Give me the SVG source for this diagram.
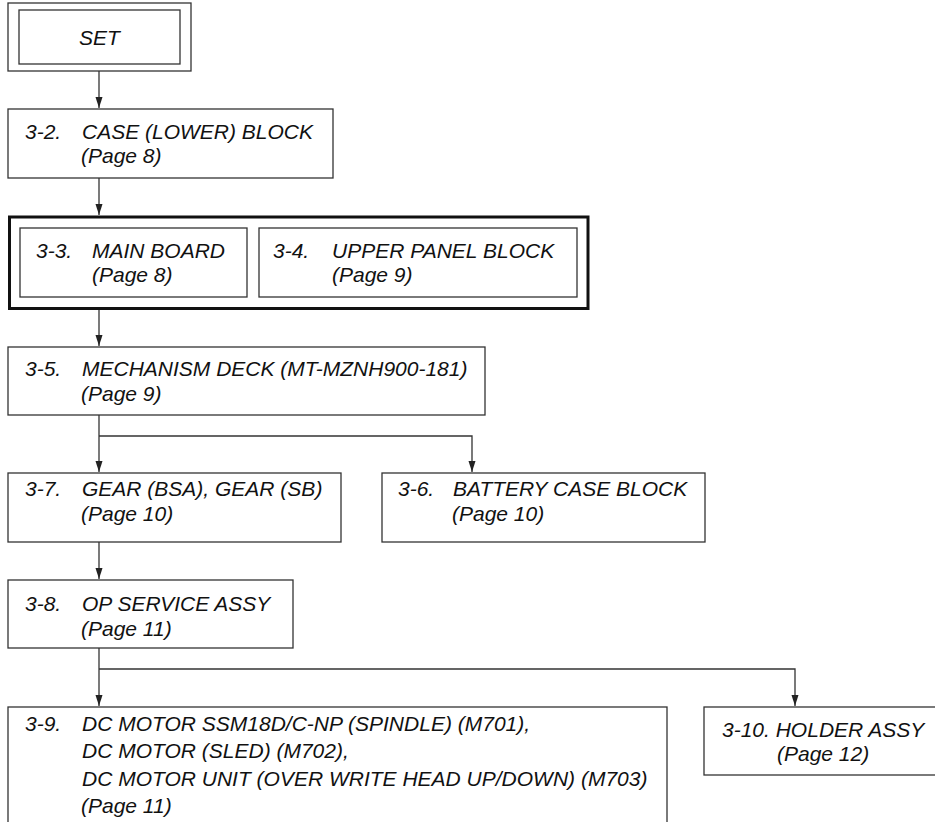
<svg xmlns="http://www.w3.org/2000/svg" width="935" height="822" viewBox="0 0 935 822">
  <style>
    .box { fill: #ffffff; stroke: #333333; stroke-width: 1.3; }
    .thick { fill: none; stroke: #111111; stroke-width: 3; }
    .t { font-family: "Liberation Sans", Arial, Helvetica, sans-serif; font-style: italic; font-size: 21px; fill: #111111; }
    .c { fill: none; stroke: #333333; stroke-width: 1.3; }
  </style>
  <defs>
    <marker id="arr" markerUnits="userSpaceOnUse" markerWidth="8" markerHeight="12" refX="4" refY="11" orient="0" viewBox="0 0 8 12">
      <path d="M0.5,0 L7.5,0 L4,11 z" fill="#222222"/>
    </marker>
  </defs>
  <rect width="935" height="822" fill="#ffffff"/>

  <g id="connectors">
    <line class="c" x1="99" y1="71" x2="99" y2="108" marker-end="url(#arr)"/>
    <line class="c" x1="99" y1="178" x2="99" y2="215" marker-end="url(#arr)"/>
    <line class="c" x1="99" y1="310" x2="99" y2="346" marker-end="url(#arr)"/>
    <line class="c" x1="99" y1="415" x2="99" y2="472" marker-end="url(#arr)"/>
    <polyline class="c" points="99,436 472,436 472,472" marker-end="url(#arr)"/>
    <line class="c" x1="99" y1="542" x2="99" y2="579" marker-end="url(#arr)"/>
    <line class="c" x1="99" y1="648" x2="99" y2="706" marker-end="url(#arr)"/>
    <polyline class="c" points="99,669 795,669 795,706" marker-end="url(#arr)"/>
  </g>

  <g id="node-set">
    <rect class="box" x="8" y="3" width="183" height="68"/>
    <rect class="box" x="19" y="10" width="161" height="54"/>
    <text class="t" x="99.5" y="45" text-anchor="middle">SET</text>
  </g>

  <g id="node-3-2">
    <rect class="box" x="8" y="109" width="325" height="69"/>
    <text class="t" x="25" y="139">3-2.</text>
    <text class="t" x="82" y="139">CASE (LOWER) BLOCK</text>
    <text class="t" x="81" y="163">(Page 8)</text>
  </g>

  <g id="node-3-3-3-4-group">
    <rect class="thick" x="9.5" y="217" width="578.5" height="91.5"/>
  </g>

  <g id="node-3-3">
    <rect class="box" x="20" y="228" width="227" height="69"/>
    <text class="t" x="36" y="258">3-3.</text>
    <text class="t" x="92" y="258">MAIN BOARD</text>
    <text class="t" x="92" y="282">(Page 8)</text>
  </g>

  <g id="node-3-4">
    <rect class="box" x="259" y="228" width="318" height="69"/>
    <text class="t" x="273" y="258">3-4.</text>
    <text class="t" x="332" y="258">UPPER PANEL BLOCK</text>
    <text class="t" x="332" y="282">(Page 9)</text>
  </g>

  <g id="node-3-5">
    <rect class="box" x="8" y="347" width="477" height="68"/>
    <text class="t" x="25" y="376">3-5.</text>
    <text class="t" x="82" y="376">MECHANISM DECK (MT-MZNH900-181)</text>
    <text class="t" x="81" y="401">(Page 9)</text>
  </g>

  <g id="node-3-7">
    <rect class="box" x="8" y="473" width="333" height="69"/>
    <text class="t" x="25" y="496">3-7.</text>
    <text class="t" x="82" y="496">GEAR (BSA), GEAR (SB)</text>
    <text class="t" x="81" y="521">(Page 10)</text>
  </g>

  <g id="node-3-6">
    <rect class="box" x="382" y="473" width="323" height="69"/>
    <text class="t" x="398" y="496">3-6.</text>
    <text class="t" x="453" y="496">BATTERY CASE BLOCK</text>
    <text class="t" x="452" y="521">(Page 10)</text>
  </g>

  <g id="node-3-8">
    <rect class="box" x="8" y="580" width="285" height="68"/>
    <text class="t" x="25" y="611">3-8.</text>
    <text class="t" x="82" y="611">OP SERVICE ASSY</text>
    <text class="t" x="81" y="636">(Page 11)</text>
  </g>

  <g id="node-3-9">
    <rect class="box" x="8" y="707" width="659" height="120"/>
    <text class="t" x="25" y="731">3-9.</text>
    <text class="t" x="82" y="731">DC MOTOR SSM18D/C-NP (SPINDLE) (M701),</text>
    <text class="t" x="82" y="758">DC MOTOR (SLED) (M702),</text>
    <text class="t" x="82" y="786">DC MOTOR UNIT (OVER WRITE HEAD UP/DOWN) (M703)</text>
    <text class="t" x="81" y="813">(Page 11)</text>
  </g>

  <g id="node-3-10">
    <rect class="box" x="704" y="707" width="240" height="68"/>
    <text class="t" x="722" y="737">3-10. HOLDER ASSY</text>
    <text class="t" x="777" y="761">(Page 12)</text>
  </g>
</svg>
